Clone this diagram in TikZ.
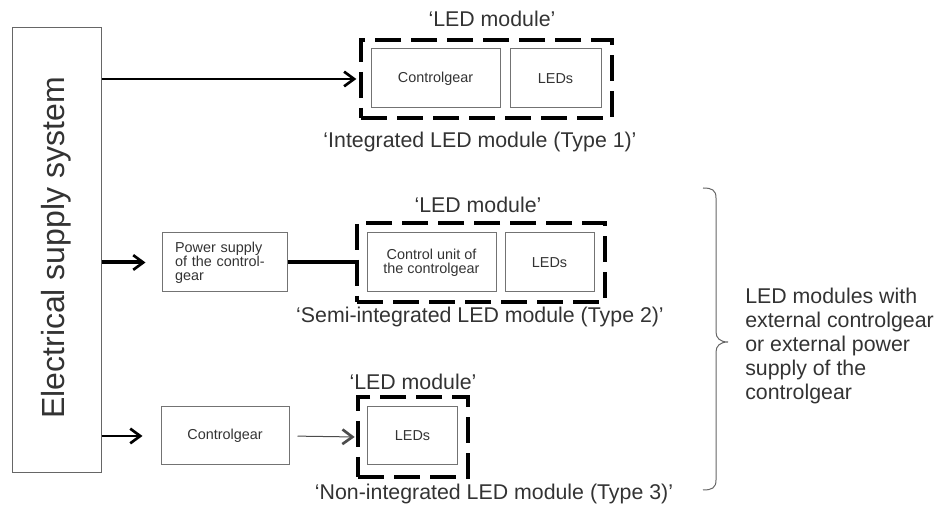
\documentclass[tikz,border=0pt]{standalone}
\usepackage{fontspec}
\setmainfont{Liberation Sans}
\usetikzlibrary{arrows.meta}
\begin{document}
\begin{tikzpicture}[x=0.75pt,y=-0.75pt,
  plain/.style={draw=black!55, line width=0.75pt, inner sep=0pt, text=black!80,
    font=\fontsize{10.8}{10.5}\selectfont},
  modbox/.style={draw=black, line width=3pt, dash pattern=on 19.5pt off 7.5pt, inner sep=0pt},
  lab/.style={font=\fontsize{16}{18}\selectfont, text=black!80, anchor=base, inner sep=0pt},
  sz/.style 2 args={minimum width=#1*0.75pt, minimum height=#2*0.75pt},
  barb/.style={-{Straight Barb[length=7.5pt,width=11pt,line width=2pt]}}
]
\path[use as bounding box] (0,0) rectangle (939,505);

% supply system
\node[plain, draw=black!60, sz={89}{445}] (sup) at (56.5,250.5) {};
\node[rotate=90, font=\fontsize{24}{24}\selectfont, text=black!80, inner sep=0pt] (suptxt) at (56.5,248) {Electrical supply system};

% row 1
\node[modbox, sz={251}{78}] (mod1) at (486.5,79) {};
\node[plain, sz={129}{59}] (cg1) at (435.5,78.5) {Controlgear};
\node[plain, sz={91}{59}] (led1) at (555.5,78.5) {LEDs};
\node[lab] (lab1t) at (492,27) {‘LED module’};
\node[lab] (lab1b) at (480,148) {‘Integrated LED module (Type 1)’};
\draw[line width=1.5pt, barb, shorten >=2pt] (sup.east |- mod1.west) -- (mod1.west);

% row 2
\node[plain, sz={125}{59}, align=left, text width=99*0.75pt, inner xsep=13*0.75pt] (ps) at (224.5,262.5) {Power supply\\of the control-\\gear};
\node[modbox, sz={248}{79}] (mod2) at (481,262.5) {};
\node[plain, sz={129}{59}, align=center] (cu2) at (431.5,262.5) {Control unit of\\the controlgear};
\node[plain, sz={89}{59}] (led2) at (549.5,262.5) {LEDs};
\node[lab] (lab2t) at (478,213) {‘LED module’};
\node[lab] (lab2b) at (480,323) {‘Semi-integrated LED module (Type 2)’};
\draw[line width=3pt, barb, shorten >=12pt] (sup.east |- ps.west) -- (ps.west);
\draw[line width=3pt] (ps.east) -- (mod2.west);

% row 3
\node[plain, sz={128}{58}] (cg3) at (225,436) {Controlgear};
\node[modbox, sz={110}{80}] (mod3) at (413,437) {};
\node[plain, sz={90}{58}] (led3) at (412.5,436) {LEDs};
\node[lab] (lab3t) at (413,390) {‘LED module’};
\node[lab] (lab3b) at (494,500) {‘Non-integrated LED module (Type 3)’};
\draw[line width=1.5pt, barb, shorten >=13.5pt] (sup.east |- cg3.west) -- (cg3.west);
\draw[line width=0.75pt, draw=black!70, barb, shorten <=6pt, shorten >=1pt] (cg3.east) -- (mod3.west);

% brace and note
\draw[draw=black!60, line width=0.75pt] (703,188) .. controls (712,188) and (716,190) .. (716,198)
  -- (716,332) .. controls (716,338) and (720,342) .. (728,342)
  .. controls (720,342) and (716,346) .. (716,352)
  -- (716,480) .. controls (716,488) and (712,490) .. (703,490);
\node[anchor=west, align=left, font=\fontsize{16}{18}\selectfont, text=black!80, inner sep=0pt] (note) at (745,346) {LED modules with\\external controlgear\\or external power\\supply of the\\controlgear};
\end{tikzpicture}
\end{document}
